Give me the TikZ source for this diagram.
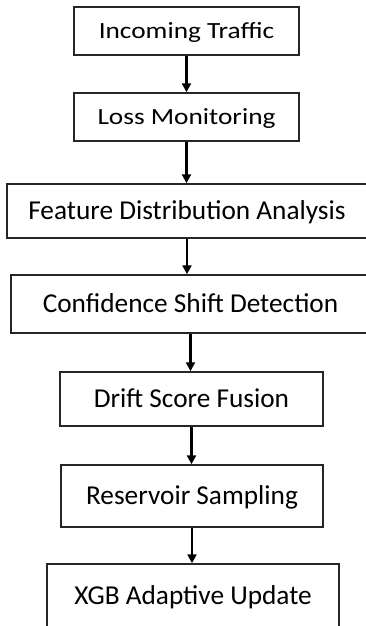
\documentclass[tikz,border=0pt]{standalone}
\usepackage{fontspec}
\setmainfont{Carlito}
\usetikzlibrary{arrows.meta}
\tikzset{
  stagebox/.style={draw=black!85, line width=1.5pt, inner sep=0pt, fill=white,
    text=black, font=\fontsize{27.3}{30}\selectfont, text height=17.6pt, text depth=0pt},
  squashbox/.style={stagebox, text height=15pt},
  flowarrow/.style={line width=2.3pt, draw=black, -{Triangle[length=9pt,width=9pt]}}
}
\begin{document}
\begin{tikzpicture}[x=1pt,y=1pt]
\useasboundingbox (0,0) rectangle (365,-626);
\node[squashbox, minimum width=225pt, minimum height=48pt] (n1) at (186.5,-31) {\scalebox{1}[0.85]{Incoming Traffic}};
\node[squashbox, minimum width=225pt, minimum height=48pt] (n2) at (186.5,-117) {\scalebox{1}[0.85]{Loss Monitoring}};
\node[stagebox, minimum width=360pt, minimum height=54pt] (n3) at (187,-211) {Feature Distribution Analysis};
\node[stagebox, minimum width=359pt, minimum height=58pt] (n4) at (190.5,-304) {Confidence Shift Detection};
\node[stagebox, minimum width=263pt, minimum height=54pt] (n5) at (191.5,-399) {Drift Score Fusion};
\node[stagebox, minimum width=262pt, minimum height=62pt] (n6) at (192,-496) {Reservoir Sampling};
\node[stagebox, minimum width=292pt, minimum height=64pt] (n7) at (193,-596) {XGB Adaptive Update};
\draw[flowarrow] (n1.south) -- (n1.south |- n2.north);
\draw[flowarrow] (n2.south) -- (n2.south |- n3.north);
\draw[flowarrow] (n3.south) -- (n3.south |- n4.north);
\draw[flowarrow] (n4.south) -- (n4.south |- n5.north);
\draw[flowarrow] (n5.south) -- (n5.south |- n6.north);
\draw[flowarrow] (n6.south) -- (n6.south |- n7.north);
\end{tikzpicture}
\end{document}
